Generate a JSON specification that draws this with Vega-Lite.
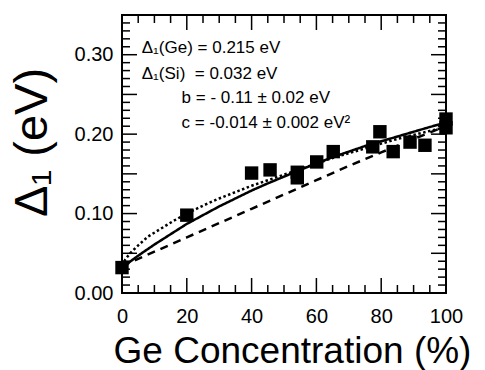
{
  "$schema": "https://vega.github.io/schema/vega-lite/v6.json",
  "autosize": {"type": "none"},
  "padding": {"left": 122, "top": 15, "right": 39, "bottom": 77},
  "width": 324,
  "height": 278,
  "background": "white",
  "config": {
    "view": {"stroke": "black", "strokeWidth": 2},
    "font": "Liberation Sans",
    "axis": {"domain": false, "ticks": false, "grid": false, "labelColor": "black", "titleColor": "black", "labelFont": "Liberation Sans", "titleFont": "Liberation Sans", "titleFontWeight": "normal", "labelOverlap": false, "labelFlush": false}
  },
  "datasets": {
    "points": [
      {"ge": 0, "delta": 0.032},
      {"ge": 20, "delta": 0.098},
      {"ge": 40, "delta": 0.151},
      {"ge": 45.7, "delta": 0.155},
      {"ge": 54.1, "delta": 0.152},
      {"ge": 54.1, "delta": 0.145},
      {"ge": 60.1, "delta": 0.165},
      {"ge": 65.2, "delta": 0.178},
      {"ge": 77.4, "delta": 0.184},
      {"ge": 79.6, "delta": 0.203},
      {"ge": 83.7, "delta": 0.178},
      {"ge": 88.9, "delta": 0.19},
      {"ge": 93.5, "delta": 0.186},
      {"ge": 100, "delta": 0.219},
      {"ge": 100, "delta": 0.208}
    ],
    "curves": [
      {"fit": "solid", "ge": 0, "delta": 0.032},
      {"fit": "solid", "ge": 5, "delta": 0.047},
      {"fit": "solid", "ge": 10, "delta": 0.061},
      {"fit": "solid", "ge": 15, "delta": 0.074},
      {"fit": "solid", "ge": 20, "delta": 0.087},
      {"fit": "solid", "ge": 25, "delta": 0.098},
      {"fit": "solid", "ge": 30, "delta": 0.109},
      {"fit": "solid", "ge": 35, "delta": 0.119},
      {"fit": "solid", "ge": 40, "delta": 0.129},
      {"fit": "solid", "ge": 45, "delta": 0.138},
      {"fit": "solid", "ge": 50, "delta": 0.1465},
      {"fit": "solid", "ge": 55, "delta": 0.155},
      {"fit": "solid", "ge": 60, "delta": 0.163},
      {"fit": "solid", "ge": 65, "delta": 0.171},
      {"fit": "solid", "ge": 70, "delta": 0.178},
      {"fit": "solid", "ge": 75, "delta": 0.185},
      {"fit": "solid", "ge": 80, "delta": 0.191},
      {"fit": "solid", "ge": 85, "delta": 0.197},
      {"fit": "solid", "ge": 90, "delta": 0.203},
      {"fit": "solid", "ge": 95, "delta": 0.209},
      {"fit": "solid", "ge": 100, "delta": 0.2145},
      {"fit": "dotted", "ge": 0, "delta": 0.034},
      {"fit": "dotted", "ge": 1, "delta": 0.042},
      {"fit": "dotted", "ge": 2.5, "delta": 0.05},
      {"fit": "dotted", "ge": 5, "delta": 0.06},
      {"fit": "dotted", "ge": 8, "delta": 0.071},
      {"fit": "dotted", "ge": 12, "delta": 0.081},
      {"fit": "dotted", "ge": 16, "delta": 0.091},
      {"fit": "dotted", "ge": 20, "delta": 0.1},
      {"fit": "dotted", "ge": 25, "delta": 0.11},
      {"fit": "dotted", "ge": 30, "delta": 0.119},
      {"fit": "dotted", "ge": 35, "delta": 0.127},
      {"fit": "dotted", "ge": 40, "delta": 0.135},
      {"fit": "dotted", "ge": 45, "delta": 0.142},
      {"fit": "dotted", "ge": 50, "delta": 0.149},
      {"fit": "dotted", "ge": 55, "delta": 0.156},
      {"fit": "dotted", "ge": 60, "delta": 0.163},
      {"fit": "dotted", "ge": 65, "delta": 0.17},
      {"fit": "dotted", "ge": 70, "delta": 0.176},
      {"fit": "dotted", "ge": 75, "delta": 0.182},
      {"fit": "dotted", "ge": 80, "delta": 0.188},
      {"fit": "dotted", "ge": 85, "delta": 0.194},
      {"fit": "dotted", "ge": 90, "delta": 0.199},
      {"fit": "dotted", "ge": 95, "delta": 0.204},
      {"fit": "dotted", "ge": 100, "delta": 0.209},
      {"fit": "dashed", "ge": 0, "delta": 0.034},
      {"fit": "dashed", "ge": 10, "delta": 0.052},
      {"fit": "dashed", "ge": 20, "delta": 0.07},
      {"fit": "dashed", "ge": 30, "delta": 0.088},
      {"fit": "dashed", "ge": 40, "delta": 0.106},
      {"fit": "dashed", "ge": 50, "delta": 0.124},
      {"fit": "dashed", "ge": 60, "delta": 0.142},
      {"fit": "dashed", "ge": 70, "delta": 0.16},
      {"fit": "dashed", "ge": 80, "delta": 0.177},
      {"fit": "dashed", "ge": 90, "delta": 0.194},
      {"fit": "dashed", "ge": 100, "delta": 0.21}
    ],
    "xticks": [
      {"ge": 5, "kind": "minor"}, {"ge": 10, "kind": "minor"}, {"ge": 15, "kind": "minor"}, {"ge": 20, "kind": "major"},
      {"ge": 25, "kind": "minor"}, {"ge": 30, "kind": "minor"}, {"ge": 35, "kind": "minor"}, {"ge": 40, "kind": "major"},
      {"ge": 45, "kind": "minor"}, {"ge": 50, "kind": "minor"}, {"ge": 55, "kind": "minor"}, {"ge": 60, "kind": "major"},
      {"ge": 65, "kind": "minor"}, {"ge": 70, "kind": "minor"}, {"ge": 75, "kind": "minor"}, {"ge": 80, "kind": "major"},
      {"ge": 85, "kind": "minor"}, {"ge": 90, "kind": "minor"}, {"ge": 95, "kind": "minor"}
    ],
    "yticks": [
      {"delta": 0.01, "kind": "minor"}, {"delta": 0.02, "kind": "minor"}, {"delta": 0.03, "kind": "minor"}, {"delta": 0.04, "kind": "minor"}, {"delta": 0.05, "kind": "major"},
      {"delta": 0.06, "kind": "minor"}, {"delta": 0.07, "kind": "minor"}, {"delta": 0.08, "kind": "minor"}, {"delta": 0.09, "kind": "minor"}, {"delta": 0.1, "kind": "major"},
      {"delta": 0.11, "kind": "minor"}, {"delta": 0.12, "kind": "minor"}, {"delta": 0.13, "kind": "minor"}, {"delta": 0.14, "kind": "minor"}, {"delta": 0.15, "kind": "major"},
      {"delta": 0.16, "kind": "minor"}, {"delta": 0.17, "kind": "minor"}, {"delta": 0.18, "kind": "minor"}, {"delta": 0.19, "kind": "minor"}, {"delta": 0.2, "kind": "major"},
      {"delta": 0.21, "kind": "minor"}, {"delta": 0.22, "kind": "minor"}, {"delta": 0.23, "kind": "minor"}, {"delta": 0.24, "kind": "minor"}, {"delta": 0.25, "kind": "major"},
      {"delta": 0.26, "kind": "minor"}, {"delta": 0.27, "kind": "minor"}, {"delta": 0.28, "kind": "minor"}, {"delta": 0.29, "kind": "minor"}, {"delta": 0.3, "kind": "major"},
      {"delta": 0.31, "kind": "minor"}, {"delta": 0.32, "kind": "minor"}, {"delta": 0.33, "kind": "minor"}, {"delta": 0.34, "kind": "minor"}
    ],
    "notes": [
      {"ge": 6.1, "delta": 0.3018, "label": "Δ₁(Ge) = 0.215 eV"},
      {"ge": 6.1, "delta": 0.269, "label": "Δ₁(Si)\u00a0 = 0.032 eV"},
      {"ge": 18.4, "delta": 0.2388, "label": "b = - 0.11 ± 0.02 eV"},
      {"ge": 18.4, "delta": 0.2074, "label": "c = -0.014 ± 0.002 eV²"}
    ]
  },
  "layer": [
    {
      "data": {"name": "xticks"},
      "mark": {"type": "point", "shape": "M0,0V-2", "filled": false, "stroke": "black", "strokeWidth": 1.5, "opacity": 1, "clip": false},
      "encoding": {
        "x": {"field": "ge", "type": "quantitative", "scale": {"domain": [0, 100], "nice": false},
          "axis": {"orient": "bottom", "title": "Ge Concentration (%)",
            "values": [0, 20, 40, 60, 80, 100], "labelOverlap": false,
            "labelFontSize": 20, "labelPadding": 13,
            "titleFontSize": 37, "titleX": 170, "titleY": 69, "titleBaseline": "alphabetic", "titleAnchor": null}},
        "y": {"datum": 0, "type": "quantitative", "scale": {"domain": [0, 0.35], "nice": false, "zero": false},
          "axis": {"orient": "left", "title": "Δ₁ (eV)",
            "values": [0, 0.05, 0.1, 0.15, 0.2, 0.25, 0.3, 0.35], "format": ".2f", "labelOverlap": false,
            "labelFontSize": 20, "labelPadding": 9,
            "titleFontSize": 47, "titleAngle": 270, "titleX": -90, "titleY": 127, "titleBaseline": "middle", "titleAlign": "center"}},
        "size": {"field": "kind", "type": "ordinal", "legend": null, "scale": {"domain": ["major", "minor"], "range": [225, 64]}}
      }
    },
    {
      "data": {"name": "xticks"},
      "mark": {"type": "point", "shape": "M0,0V2", "filled": false, "stroke": "black", "strokeWidth": 1.5, "opacity": 1, "clip": false},
      "encoding": {
        "x": {"field": "ge", "type": "quantitative"},
        "y": {"datum": 0.35, "type": "quantitative"},
        "size": {"field": "kind", "type": "ordinal", "legend": null, "scale": {"domain": ["major", "minor"], "range": [225, 64]}}
      }
    },
    {
      "data": {"name": "yticks"},
      "mark": {"type": "point", "shape": "M0,0H2", "filled": false, "stroke": "black", "strokeWidth": 1.5, "opacity": 1, "clip": false},
      "encoding": {
        "x": {"datum": 0, "type": "quantitative"},
        "y": {"field": "delta", "type": "quantitative"},
        "size": {"field": "kind", "type": "ordinal", "legend": null, "scale": {"domain": ["major", "minor"], "range": [225, 64]}}
      }
    },
    {
      "data": {"name": "yticks"},
      "mark": {"type": "point", "shape": "M0,0H-2", "filled": false, "stroke": "black", "strokeWidth": 1.5, "opacity": 1, "clip": false},
      "encoding": {
        "x": {"datum": 100, "type": "quantitative"},
        "y": {"field": "delta", "type": "quantitative"},
        "size": {"field": "kind", "type": "ordinal", "legend": null, "scale": {"domain": ["major", "minor"], "range": [225, 64]}}
      }
    },
    {
      "data": {"name": "curves"},
      "mark": {"type": "line", "color": "black", "strokeWidth": 2.5, "clip": false},
      "encoding": {
        "x": {"field": "ge", "type": "quantitative"},
        "y": {"field": "delta", "type": "quantitative"},
        "detail": {"field": "fit", "type": "nominal"},
        "strokeDash": {"field": "fit", "type": "nominal", "legend": null,
          "scale": {"domain": ["solid", "dashed", "dotted"], "range": [[1, 0], [8, 6], [2.5, 2.5]]}}
      }
    },
    {
      "data": {"name": "points"},
      "mark": {"type": "square", "color": "black", "opacity": 1, "filled": true, "size": 180, "clip": false},
      "encoding": {
        "x": {"field": "ge", "type": "quantitative"},
        "y": {"field": "delta", "type": "quantitative"}
      }
    },
    {
      "data": {"name": "notes"},
      "mark": {"type": "text", "align": "left", "baseline": "alphabetic", "fontSize": 17, "color": "black", "font": "Liberation Sans"},
      "encoding": {
        "x": {"field": "ge", "type": "quantitative"},
        "y": {"field": "delta", "type": "quantitative"},
        "text": {"field": "label"}
      }
    }
  ]
}
